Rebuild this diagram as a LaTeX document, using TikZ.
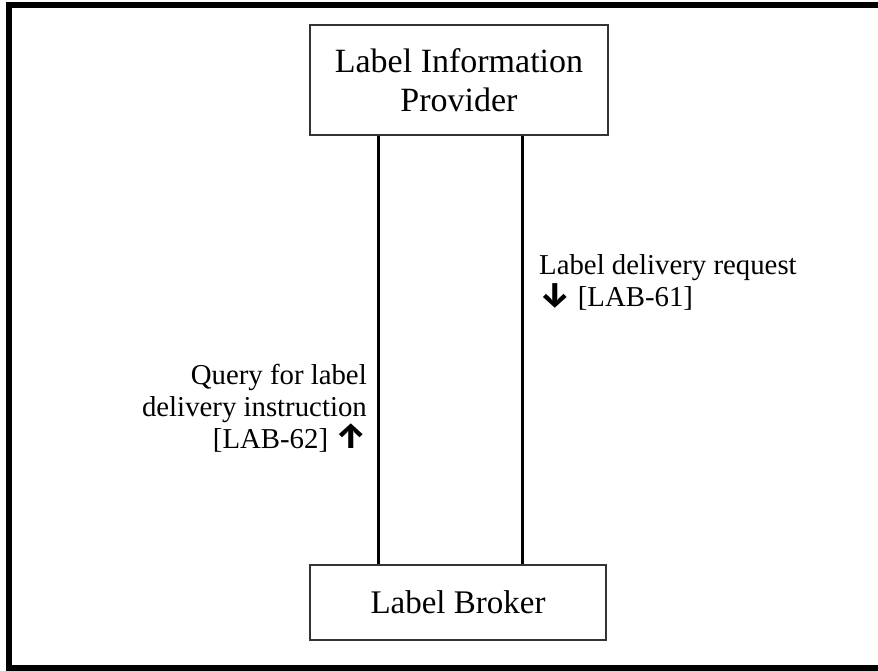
\documentclass[tikz,border=0pt]{standalone}
\usepackage{fontspec}
\setmainfont{Liberation Serif}
\newfontfamily\arrowfont{Fira Sans}
\usepackage{tikz}
\usetikzlibrary{positioning}

\begin{document}
\begin{tikzpicture}[x=1pt,y=-1pt,
          box/.style={draw=black!80,line width=1.2pt,inner sep=0pt,align=center},
          link/.style={line width=3pt},
          note/.style={inner sep=0pt,font=\fontsize{28.8}{32}\selectfont}
        ]
        \useasboundingbox (0,0) rectangle (878,670);
        \draw [line width=6pt] (9,5) rectangle (884,668);
        \node [box,minimum width=298pt,minimum height=110pt,font=\fontsize{34}{39}\selectfont] (provider) at (459,80) {Label Information\\Provider};
        \node [box,minimum width=296pt,minimum height=75pt,font=\fontsize{33}{38}\selectfont] (broker) at (458,602.5) {Label Broker};
        \coordinate (up) at (378,0);
        \coordinate (down) at (522.5,0);
        \draw [link] (up |- provider.south) -- (up |- broker.north);
        \draw [link] (down |- provider.south) -- (down |- broker.north);
        \node [note,align=left,anchor=north west] (request) at (539,254) {Label delivery request\\{\arrowfont\bfseries\fontsize{35}{32}\selectfont ↓} {[LAB-61]}};
        \node [note,align=right,anchor=north east] (query) at (367,364) {Query for label\\delivery instruction\\{[LAB-62]} {\arrowfont\bfseries\fontsize{35}{32}\selectfont ↑}};
    \end{tikzpicture}
\end{document}
